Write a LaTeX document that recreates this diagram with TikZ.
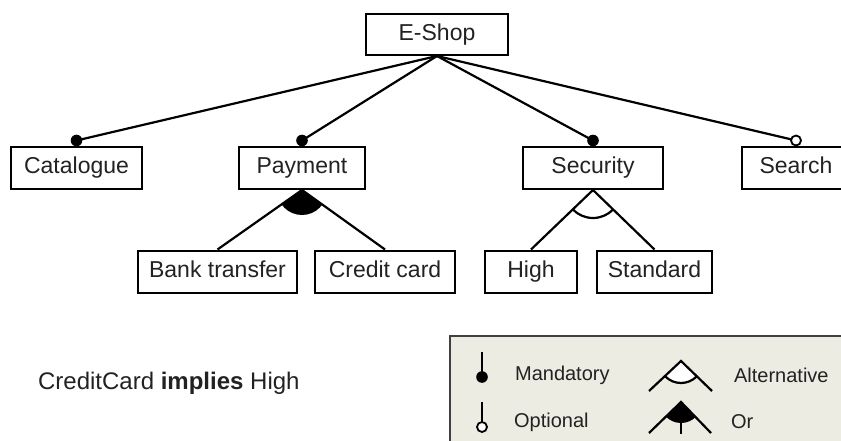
\documentclass[tikz,border=0pt]{standalone}
\usepackage{fontspec}
\setmainfont{Liberation Sans}
\definecolor{legfill}{RGB}{236,236,226}
\definecolor{txt}{RGB}{34,34,34}
\begin{document}
\begin{tikzpicture}[x=1pt,y=-1pt, line width=2.2pt,
  feat/.style={draw, line width=2pt, minimum height=42pt, inner sep=0pt,
               text height=16.5pt, text depth=4.5pt,
               font=\fontsize{23}{27}\selectfont, text=txt},
  leg/.style={font=\fontsize{20}{24}\selectfont, anchor=west, text=txt, inner sep=0pt}]
\clip (0,0) rectangle (841,441);
\fill[white] (0,0) rectangle (841,441);
% features
\node[feat, minimum width=142pt, minimum height=41pt] (eshop) at (437,34.5) {E-Shop};
\node[feat, minimum width=131pt] (cat) at (76.5,168) {Catalogue};
\node[feat, minimum width=126pt] (pay) at (302,168) {Payment};
\node[feat, minimum width=140pt] (sec) at (593,168) {Security};
\node[feat, minimum width=108pt] (srch) at (796,168) {Search};
\node[feat, minimum width=159pt] (bank) at (217.5,271.5) {Bank transfer};
\node[feat, minimum width=140pt] (credit) at (385,271.5) {Credit card};
\node[feat, minimum width=92pt] (high) at (531,271.5) {High};
\node[feat, minimum width=115pt] (std) at (654.5,271.5) {Standard};
% mandatory / optional connectors
\coordinate (catdot) at ([yshift=5.5pt]cat.north);
\coordinate (paydot) at ([yshift=5.5pt]pay.north);
\coordinate (secdot) at ([yshift=5.5pt]sec.north);
\coordinate (srchdot) at ([yshift=5.5pt]srch.north);
\draw (eshop.south) -- (catdot);
\draw (eshop.south) -- (paydot);
\draw (eshop.south) -- (secdot);
\draw (eshop.south) -- (srchdot);
\fill (catdot) circle (5.8);
\fill (paydot) circle (5.8);
\fill (secdot) circle (5.8);
\filldraw[fill=white, line width=1.8pt] (srchdot) circle (5);
% or group
\begin{scope}
  \clip (pay.south) -- (bank.north) -- (credit.north) -- cycle;
  \fill (pay.south) circle (25);
\end{scope}
\draw (bank.north) -- (pay.south) -- (credit.north);
% alternative group
\begin{scope}
  \clip (sec.south) -- (high.north) -- (std.north) -- cycle;
  \draw (sec.south) circle (28);
\end{scope}
\draw (high.north) -- (sec.south) -- (std.north);
% constraint
\node[anchor=west, inner sep=0pt, font=\fontsize{24}{28}\selectfont, text=txt] (constraint) at (37,383) {CreditCard \textbf{implies} High};
% legend
\draw[fill=legfill, line width=2.2pt, draw=black!75] (450,336) rectangle (870,470);
\coordinate (mtop) at (482,352);
\coordinate (mdot) at (482,377);
\draw (mtop) -- (mdot);
\fill (mdot) circle (5.8);
\node[leg] (lmand) at (514,375) {Mandatory};
\coordinate (otop) at (482,402);
\coordinate (odot) at (482,427);
\draw (otop) -- ([yshift=5pt]odot);
\filldraw[fill=white, line width=1.8pt] (odot) circle (5);
\node[leg] (lopt) at (513,422) {Optional};
\coordinate (aapex) at (681,361);
\coordinate (al) at (649,391);
\coordinate (ar) at (712,391);
\begin{scope}
  \clip (aapex) -- (al) -- (ar) -- cycle;
  \filldraw[fill=white] (aapex) circle (22);
\end{scope}
\draw (al) -- (aapex) -- (ar);
\node[leg] (lalt) at (733,375) {Alternative};
\coordinate (oapex) at (681,402);
\coordinate (ol) at (649,433);
\coordinate (or) at (711,433);
\begin{scope}
  \clip (oapex) -- (ol) -- (or) -- cycle;
  \fill (oapex) circle (21);
\end{scope}
\draw (ol) -- (oapex) -- (or);
\coordinate (otick) at (681,434);
\draw (oapex) -- (otick);
\node[leg] (lor) at (730,422) {Or};
\end{tikzpicture}
\end{document}
